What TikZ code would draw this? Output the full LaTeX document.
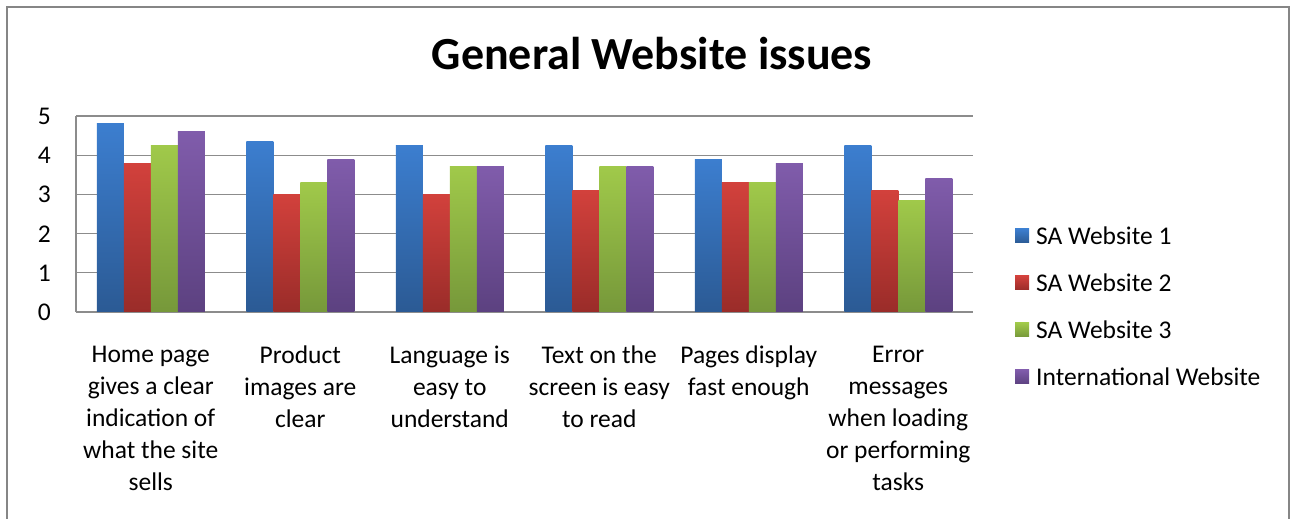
\documentclass[tikz,border=0pt]{standalone}
\usepackage{fontspec}
\setmainfont{Carlito}
\usepackage{xcolor}
\usetikzlibrary{positioning}
\definecolor{siteonetop}{HTML}{3C7ECF}
\definecolor{siteonebot}{HTML}{2B5A94}
\definecolor{sitetwotop}{HTML}{D2413C}
\definecolor{sitetwobot}{HTML}{9A2C29}
\definecolor{sitethreetop}{HTML}{A0C94A}
\definecolor{sitethreebot}{HTML}{76983A}
\definecolor{sitefourtop}{HTML}{805CAB}
\definecolor{sitefourbot}{HTML}{5C4180}
\definecolor{gridgray}{HTML}{8C8C8C}
\definecolor{framegray}{HTML}{868686}

\begin{document}
\begin{tikzpicture}[x=1pt,y=1pt,
  siteone/.style={top color=siteonetop,bottom color=siteonebot},
  sitetwo/.style={top color=sitetwotop,bottom color=sitetwobot},
  sitethree/.style={top color=sitethreetop,bottom color=sitethreebot},
  sitefour/.style={top color=sitefourtop,bottom color=sitefourbot},
  gridline/.style={draw=gridgray,line width=1.3pt},
  ticklabel/.style={inner sep=0pt,font=\fontsize{25.5}{32}\selectfont},
  catlabel/.style={inner sep=0pt,anchor=north,align=center,font=\fontsize{25.5}{32}\selectfont},
  legendlabel/.style={inner sep=0pt,anchor=west,font=\fontsize{25.5}{32}\selectfont}]
\useasboundingbox (0,0) rectangle (1295,519);

% Chart frame
\draw[framegray,line width=2pt] (7,0) -- (7,512) -- (1289,512) -- (1289,0);

% Title
\node[inner sep=0pt,anchor=base,font=\fontsize{46}{54}\selectfont\bfseries] (title) at (652,449) {General Website issues};

% Gridlines and value axis
\foreach \v in {0,...,5} {
  \draw[gridline] (76,207+\v*39.2) -- (973,207+\v*39.2);
  \node[ticklabel,anchor=base east] (val\v) at (51,198.5+\v*39.2) {\v};
}
\draw[gridline] (76,207) -- (76,403);

% Bars, one group per question
\foreach \g/\a/\b/\c/\d in {0/4.8/3.8/4.25/4.6, 1/4.35/3.0/3.3/3.9, 2/4.25/3.0/3.7/3.7,
                            3/4.25/3.1/3.7/3.7, 4/3.9/3.3/3.3/3.8, 5/4.25/3.1/2.85/3.4} {
  \pgfmathsetmacro\xg{96.75+\g*149.5}
  \shade[siteone] (\xg,207) rectangle ++(27,\a*39.2);
  \shade[sitetwo] (\xg+27,207) rectangle ++(27,\b*39.2);
  \shade[sitethree] (\xg+54,207) rectangle ++(27,\c*39.2);
  \shade[sitefour] (\xg+81,207) rectangle ++(27,\d*39.2);
}

% Category labels
\foreach \g/\txt in {0/{Home page\\gives a clear\\indication of\\what the site\\sells},
                     1/{Product\\images are\\clear},
                     2/{Language is\\easy to\\understand},
                     3/{Text on the\\screen is easy\\to read},
                     4/{Pages display\\fast enough},
                     5/{Error\\messages\\when loading\\or performing\\tasks}} {
  \node[catlabel] (cat\g) at (150.75+\g*149.5,173) {\txt};
}

% Legend
\foreach \i/\name/\sty in {0/SA Website 1/siteone, 1/SA Website 2/sitetwo,
                           2/SA Website 3/sitethree, 3/International Website/sitefour} {
  \shade[\sty] (1015,276-\i*47) rectangle ++(14,14);
  \node[legendlabel] (leg\i) at (1036,283-\i*47) {\name};
}
\end{tikzpicture}
\end{document}
